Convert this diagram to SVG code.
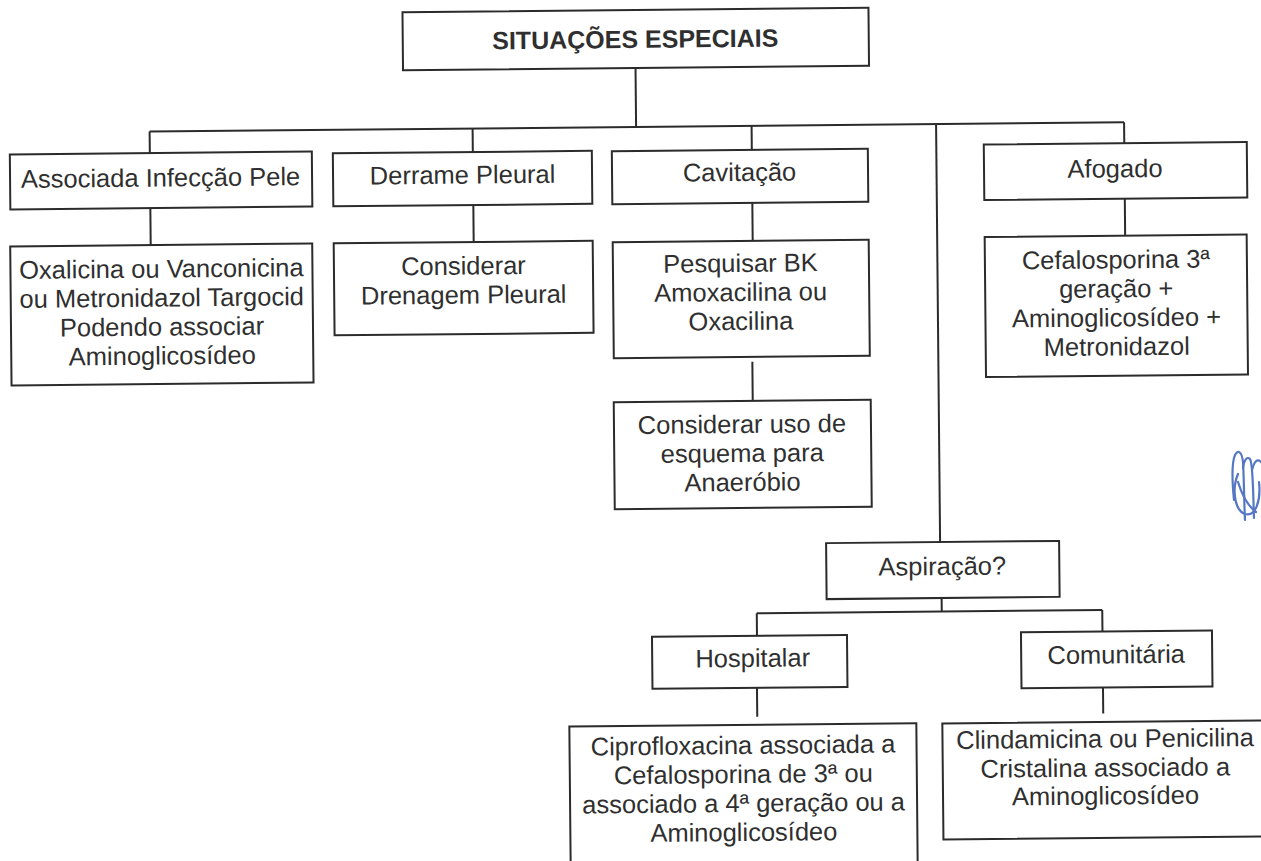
<svg xmlns="http://www.w3.org/2000/svg" width="1261" height="861" viewBox="0 0 1261 861">
  <style>
    .box { fill: #ffffff; stroke: #2b2b2b; stroke-width: 2; }
    .link { fill: none; stroke: #2b2b2b; stroke-width: 2; }
    .t { font-family: "Liberation Sans", Arial, sans-serif; font-size: 25.5px; fill: #2f2f2f; text-anchor: middle; }
    .title { font-weight: bold; font-size: 25px; }
    .ink { fill: none; stroke: #5577c4; stroke-width: 2.2; stroke-linecap: round; stroke-linejoin: round; }
  </style>
  <rect width="1261" height="861" fill="#ffffff"/>

  <!-- whole chart sits slightly tilted on the page -->
  <g transform="rotate(-0.55 630 430)">
    <g id="connectors">
      <path class="link" d="M639,68 V127"/>
      <path class="link" d="M152.5,127 H1127"/>
      <path class="link" d="M152.5,127 V148.5"/>
      <path class="link" d="M475.5,127 V150.5"/>
      <path class="link" d="M754.5,127 V151"/>
      <path class="link" d="M939,127 V545"/>
      <path class="link" d="M1127,127 V148"/>
      <path class="link" d="M152.5,203.5 V240.5"/>
      <path class="link" d="M475.5,203.5 V240.5"/>
      <path class="link" d="M754.5,204 V242"/>
      <path class="link" d="M1127,203.5 V240.5"/>
      <path class="link" d="M753,363 V402"/>
      <path class="link" d="M940,601 V614.5"/>
      <path class="link" d="M755,614.5 H1100.5"/>
      <path class="link" d="M755,614.5 V637"/>
      <path class="link" d="M1100.5,614.5 V636"/>
      <path class="link" d="M754.5,681 V718"/>
      <path class="link" d="M1100.5,684.5 V718"/>
    </g>

    <g id="situacoes-especiais">
      <rect class="box" x="406.5" y="10" width="466" height="58"/>
      <text class="t title" x="639" y="48">SITUAÇÕES ESPECIAIS</text>
    </g>

    <g id="infeccao-pele">
      <rect class="box" x="12.5" y="148.5" width="302" height="55"/>
      <text class="t" x="163" y="182">Associada Infecção Pele</text>
    </g>
    <g id="infeccao-pele-tratamento">
      <rect class="box" x="12" y="240.5" width="302" height="139"/>
      <text class="t" x="163" y="273">Oxalicina ou Vanconicina</text>
      <text class="t" x="163" y="302">ou Metronidazol Targocid</text>
      <text class="t" x="163" y="331">Podendo associar</text>
      <text class="t" x="163" y="360">Aminoglicosídeo</text>
    </g>

    <g id="derrame-pleural">
      <rect class="box" x="335.5" y="150.5" width="259" height="53"/>
      <text class="t" x="465" y="182">Derrame Pleural</text>
    </g>
    <g id="drenagem-pleural">
      <rect class="box" x="335.5" y="240.5" width="259" height="92"/>
      <text class="t" x="465" y="273">Considerar</text>
      <text class="t" x="465" y="302">Drenagem Pleural</text>
    </g>

    <g id="cavitacao">
      <rect class="box" x="614.5" y="151" width="256" height="53"/>
      <text class="t" x="742" y="182">Cavitação</text>
    </g>
    <g id="cavitacao-tratamento">
      <rect class="box" x="614.5" y="242" width="256" height="116"/>
      <text class="t" x="742" y="273">Pesquisar BK</text>
      <text class="t" x="742" y="302">Amoxacilina ou</text>
      <text class="t" x="742" y="331">Oxacilina</text>
    </g>
    <g id="anaerobio">
      <rect class="box" x="614" y="402" width="257" height="107"/>
      <text class="t" x="742" y="434">Considerar uso de</text>
      <text class="t" x="742" y="463">esquema para</text>
      <text class="t" x="742" y="492">Anaeróbio</text>
    </g>

    <g id="afogado">
      <rect class="box" x="986.5" y="148" width="263" height="55.5"/>
      <text class="t" x="1117.5" y="182">Afogado</text>
    </g>
    <g id="afogado-tratamento">
      <rect class="box" x="986.5" y="240.5" width="262" height="140"/>
      <text class="t" x="1117.5" y="273">Cefalosporina 3ª</text>
      <text class="t" x="1117.5" y="302">geração +</text>
      <text class="t" x="1117.5" y="331">Aminoglicosídeo +</text>
      <text class="t" x="1117.5" y="360">Metronidazol</text>
    </g>

    <g id="aspiracao">
      <rect class="box" x="825" y="545" width="233" height="56"/>
      <text class="t" x="941" y="578">Aspiração?</text>
    </g>

    <g id="hospitalar">
      <rect class="box" x="650" y="637" width="195" height="52"/>
      <text class="t" x="750.5" y="668">Hospitalar</text>
    </g>
    <g id="hospitalar-tratamento">
      <rect class="box" x="566.5" y="726" width="347" height="160"/>
      <text class="t" x="740" y="755">Ciprofloxacina associada a</text>
      <text class="t" x="740" y="784">Cefalosporina de 3ª ou</text>
      <text class="t" x="740" y="813">associado a 4ª geração ou a</text>
      <text class="t" x="740" y="842">Aminoglicosídeo</text>
    </g>

    <g id="comunitaria">
      <rect class="box" x="1019" y="636" width="191" height="56"/>
      <text class="t" x="1114" y="668">Comunitária</text>
    </g>
    <g id="comunitaria-tratamento">
      <rect class="box" x="939.5" y="726.5" width="340" height="116"/>
      <text class="t" x="1102" y="752">Clindamicina ou Penicilina</text>
      <text class="t" x="1102" y="781">Cristalina associado a</text>
      <text class="t" x="1102" y="809">Aminoglicosídeo</text>
    </g>
  </g>

  <!-- handwritten initials in the margin -->
  <g id="rubrica">
    <path class="ink" d="M1234,500 C1232,480 1232,462 1235,455 C1238,449 1242,452 1243,462 C1244,478 1244,500 1245,520"/>
    <path class="ink" d="M1243,468 C1244,460 1247,456 1250,459 C1253,463 1253,490 1254,518"/>
    <path class="ink" d="M1252,470 C1254,462 1257,458 1261,462"/>
    <path class="ink" d="M1238,474 C1232,488 1234,510 1245,514 C1256,517 1261,500 1259,482"/>
    <path class="ink" d="M1238,482 C1242,495 1248,506 1256,512"/>
  </g>
</svg>
